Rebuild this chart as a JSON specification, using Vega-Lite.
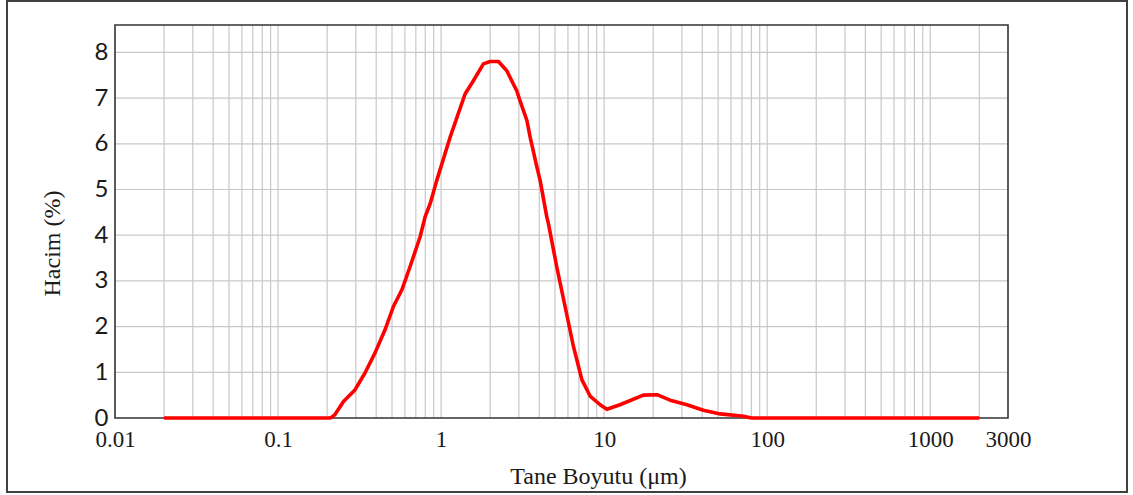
{
  "$schema": "https://vega.github.io/schema/vega-lite/v6.json",
  "autosize": {"type": "none"},
  "width": 1120,
  "height": 491,
  "padding": {"left": 7, "top": 1, "right": 6, "bottom": 3},
  "background": "white",
  "config": {
    "view": {"stroke": "#404040", "strokeWidth": 2},
    "axisX": {
      "offset": -74, "domain": false, "ticks": false, "grid": false,
      "labelFont": "Liberation Serif", "labelFontSize": 23, "labelColor": "#1a1a1a",
      "labelPadding": 10, "labelDx": 4, "labelFlush": false, "labelOverlap": false, "labelBound": false,
      "titleFont": "Liberation Serif", "titleFontSize": 24, "titleFontWeight": "normal", "titleColor": "#1a1a1a",
      "titleX": 591, "titleY": 65, "titleBaseline": "alphabetic", "titleAlign": "center"
    },
    "axisY": {
      "offset": -108, "domain": false, "ticks": false, "grid": false,
      "labelFont": "Lato", "labelFontSize": 24, "labelColor": "#1a1a1a",
      "labelPadding": 7, "labelDy": 1, "labelOverlap": false, "labelBound": false, "labelFlush": false,
      "titleFont": "Liberation Serif", "titleFontSize": 24, "titleFontWeight": "normal", "titleColor": "#1a1a1a",
      "titleX": -63, "titleY": 242, "titleBaseline": "middle", "titleAlign": "center", "titleAngle": 270
    }
  },
  "datasets": {
    "curve": [
      {"size": 0.02, "vol": 0},
      {"size": 0.05, "vol": 0},
      {"size": 0.1, "vol": 0},
      {"size": 0.208, "vol": 0},
      {"size": 0.214, "vol": 0.02},
      {"size": 0.224, "vol": 0.08},
      {"size": 0.252, "vol": 0.36},
      {"size": 0.297, "vol": 0.62},
      {"size": 0.342, "vol": 0.99},
      {"size": 0.394, "vol": 1.43},
      {"size": 0.453, "vol": 1.93},
      {"size": 0.51, "vol": 2.44},
      {"size": 0.574, "vol": 2.8},
      {"size": 0.645, "vol": 3.31},
      {"size": 0.743, "vol": 3.96},
      {"size": 0.798, "vol": 4.4},
      {"size": 0.857, "vol": 4.69},
      {"size": 0.941, "vol": 5.2},
      {"size": 1.135, "vol": 6.14},
      {"size": 1.403, "vol": 7.09},
      {"size": 1.578, "vol": 7.38},
      {"size": 1.818, "vol": 7.75},
      {"size": 1.999, "vol": 7.8},
      {"size": 2.248, "vol": 7.8},
      {"size": 2.53, "vol": 7.6},
      {"size": 2.91, "vol": 7.16},
      {"size": 3.05, "vol": 6.94},
      {"size": 3.36, "vol": 6.51},
      {"size": 3.52, "vol": 6.14},
      {"size": 3.87, "vol": 5.49},
      {"size": 4.05, "vol": 5.2},
      {"size": 4.45, "vol": 4.4},
      {"size": 4.55, "vol": 4.26},
      {"size": 5.12, "vol": 3.31},
      {"size": 5.76, "vol": 2.44},
      {"size": 6.48, "vol": 1.57},
      {"size": 7.3, "vol": 0.84},
      {"size": 8.2, "vol": 0.48},
      {"size": 9.45, "vol": 0.29},
      {"size": 10.4, "vol": 0.19},
      {"size": 12.5, "vol": 0.29},
      {"size": 17.4, "vol": 0.5},
      {"size": 21.1, "vol": 0.51},
      {"size": 25.4, "vol": 0.39},
      {"size": 32.2, "vol": 0.29},
      {"size": 40.6, "vol": 0.17},
      {"size": 51.5, "vol": 0.09},
      {"size": 71.6, "vol": 0.04},
      {"size": 80, "vol": 0},
      {"size": 200, "vol": 0},
      {"size": 2000, "vol": 0}
    ],
    "xgrid": [
      {"g": 0.02}, {"g": 0.03}, {"g": 0.04}, {"g": 0.05}, {"g": 0.06}, {"g": 0.07}, {"g": 0.08}, {"g": 0.09},
      {"g": 0.1}, {"g": 0.2}, {"g": 0.3}, {"g": 0.4}, {"g": 0.5}, {"g": 0.6}, {"g": 0.7}, {"g": 0.8}, {"g": 0.9},
      {"g": 1}, {"g": 2}, {"g": 3}, {"g": 4}, {"g": 5}, {"g": 6}, {"g": 7}, {"g": 8}, {"g": 9},
      {"g": 10}, {"g": 20}, {"g": 30}, {"g": 40}, {"g": 50}, {"g": 60}, {"g": 70}, {"g": 80}, {"g": 90},
      {"g": 100}, {"g": 200}, {"g": 300}, {"g": 400}, {"g": 500}, {"g": 600}, {"g": 700}, {"g": 800}, {"g": 900},
      {"g": 1000}, {"g": 2000}
    ],
    "ygrid": [
      {"g": 1}, {"g": 2}, {"g": 3}, {"g": 4}, {"g": 5}, {"g": 6}, {"g": 7}, {"g": 8}
    ],
    "frame": [{"name": "plot"}]
  },
  "layer": [
    {
      "data": {"name": "xgrid"},
      "mark": {"type": "rule", "color": "#c8c8c8", "strokeWidth": 1.2},
      "encoding": {
        "x": {"field": "g", "type": "quantitative",
              "scale": {"type": "log", "domain": [0.01, 3000], "range": [108, 1001], "nice": false},
              "axis": {"values": [0.01, 0.1, 1, 10, 100, 1000, 3000], "labelExpr": "format(datum.value, '~g')", "title": "Tane Boyutu (μm)"}},
        "y": {"datum": 0, "type": "quantitative",
              "scale": {"domain": [0, 8.6], "range": [417, 24], "nice": false, "zero": false},
              "axis": {"values": [0, 1, 2, 3, 4, 5, 6, 7, 8], "title": "Hacim (%)"}},
        "y2": {"datum": 8.6}
      }
    },
    {
      "data": {"name": "ygrid"},
      "mark": {"type": "rule", "color": "#c8c8c8", "strokeWidth": 1.2},
      "encoding": {
        "y": {"field": "g", "type": "quantitative",
              "scale": {"domain": [0, 8.6], "range": [417, 24], "nice": false, "zero": false},
              "axis": {"values": [0, 1, 2, 3, 4, 5, 6, 7, 8], "title": "Hacim (%)"}},
        "x": {"datum": 0.01, "type": "quantitative",
              "scale": {"type": "log", "domain": [0.01, 3000], "range": [108, 1001], "nice": false},
              "axis": {"values": [0.01, 0.1, 1, 10, 100, 1000, 3000], "labelExpr": "format(datum.value, '~g')", "title": "Tane Boyutu (μm)"}},
        "x2": {"datum": 3000}
      }
    },
    {
      "data": {"name": "frame"},
      "mark": {"type": "rect", "fillOpacity": 0, "fill": "white", "stroke": "#333333", "strokeWidth": 1.6},
      "encoding": {
        "x": {"datum": 0.01, "type": "quantitative",
              "scale": {"type": "log", "domain": [0.01, 3000], "range": [108, 1001], "nice": false},
              "axis": {"values": [0.01, 0.1, 1, 10, 100, 1000, 3000], "labelExpr": "format(datum.value, '~g')", "title": "Tane Boyutu (μm)"}},
        "x2": {"datum": 3000},
        "y": {"datum": 0, "type": "quantitative",
              "scale": {"domain": [0, 8.6], "range": [417, 24], "nice": false, "zero": false},
              "axis": {"values": [0, 1, 2, 3, 4, 5, 6, 7, 8], "title": "Hacim (%)"}},
        "y2": {"datum": 8.6}
      }
    },
    {
      "data": {"name": "curve"},
      "mark": {"type": "line", "color": "#ff0000", "strokeWidth": 3.6, "strokeJoin": "round", "strokeCap": "butt"},
      "encoding": {
        "x": {"field": "size", "type": "quantitative",
              "scale": {"type": "log", "domain": [0.01, 3000], "range": [108, 1001], "nice": false},
              "axis": {"values": [0.01, 0.1, 1, 10, 100, 1000, 3000], "labelExpr": "format(datum.value, '~g')", "title": "Tane Boyutu (μm)"}},
        "y": {"field": "vol", "type": "quantitative",
              "scale": {"domain": [0, 8.6], "range": [417, 24], "nice": false, "zero": false},
              "axis": {"values": [0, 1, 2, 3, 4, 5, 6, 7, 8], "title": "Hacim (%)"}}
      }
    }
  ]
}
